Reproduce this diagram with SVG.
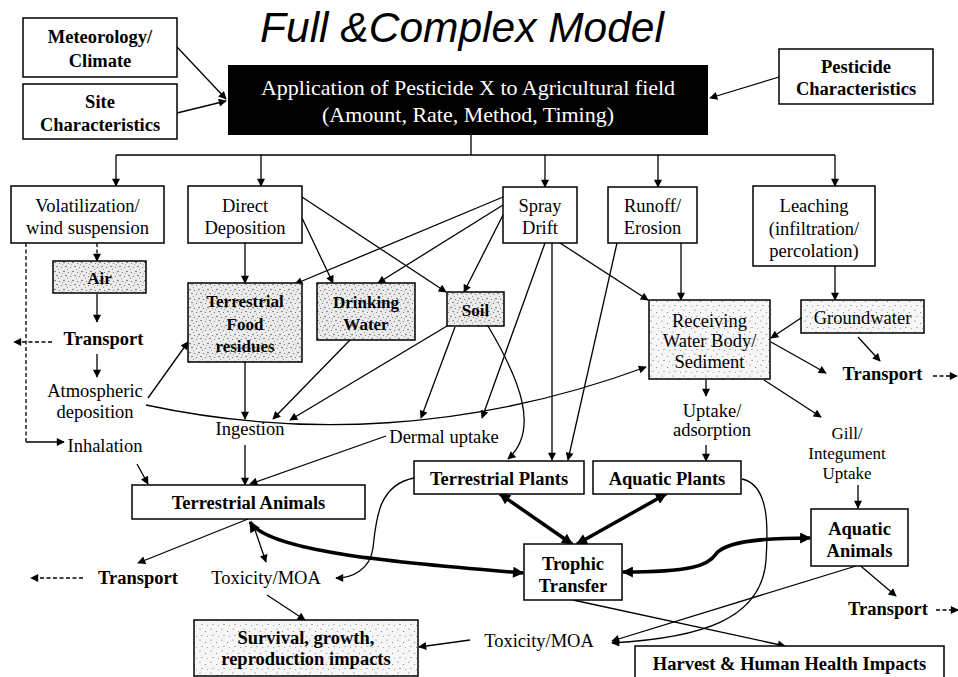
<svg xmlns="http://www.w3.org/2000/svg" width="958" height="677" viewBox="0 0 958 677">
<defs>
<style>
.t{font-family:"Liberation Serif","Times New Roman",serif;font-size:18.5px;text-anchor:middle;fill:#000}
.b{font-weight:bold}
.s{font-size:17px;font-weight:bold}
.g{font-size:17px}
.box{fill:#fff;stroke:#000;stroke-width:1.5}
.dots{fill:url(#stip);stroke:#000;stroke-width:1.5}
.ldots{fill:url(#lstip);stroke:#000;stroke-width:1.5}
.c{fill:none;stroke:#000;stroke-width:1.3}
.a{marker-end:url(#ah)}
.k{fill:none;stroke:#000;stroke-width:3.5;marker-start:url(#ahb);marker-end:url(#ahb)}
.d{stroke-dasharray:4 2.5}
</style>
<marker id="ah" viewBox="0 0 10 10" refX="9" refY="5" markerWidth="9" markerHeight="8" markerUnits="userSpaceOnUse" orient="auto-start-reverse"><path d="M0,0 L10,5 L0,10 z"/></marker>
<marker id="ahb" viewBox="0 0 10 10" refX="9" refY="5" markerWidth="13" markerHeight="11" markerUnits="userSpaceOnUse" orient="auto-start-reverse"><path d="M0,0 L10,5 L0,10 z"/></marker>
<pattern id="stip" width="9" height="9" patternUnits="userSpaceOnUse">
<rect width="9" height="9" fill="#ececec"/>
<circle cx="1" cy="1.5" r="0.7" fill="#444"/><circle cx="5.5" cy="2.5" r="0.6" fill="#666"/>
<circle cx="3" cy="5.5" r="0.7" fill="#555"/><circle cx="7.5" cy="6.5" r="0.6" fill="#666"/>
<circle cx="4.5" cy="8.2" r="0.5" fill="#777"/><circle cx="8.3" cy="3.8" r="0.5" fill="#777"/>
</pattern>
<pattern id="lstip" width="11" height="11" patternUnits="userSpaceOnUse">
<rect width="11" height="11" fill="#f6f6f6"/>
<circle cx="2" cy="2" r="0.6" fill="#666"/><circle cx="7.5" cy="4.5" r="0.6" fill="#777"/>
<circle cx="4" cy="8.5" r="0.6" fill="#666"/><circle cx="9.5" cy="9.5" r="0.5" fill="#888"/>
</pattern>
</defs>
<rect width="958" height="677" fill="#fff"/>

<g id="title"><text x="462" y="42" style="font-family:'Liberation Sans',Arial,sans-serif;font-style:italic;font-size:42.5px;text-anchor:middle">Full &amp;Complex Model</text></g>

<g id="connectors">
<path class="c a" d="M177,47 L226,99"/>
<path class="c a" d="M177,113 L226,101"/>
<path class="c a" d="M779,77 L710,98"/>
<path class="c" d="M471,135 V155 M116,155 H835"/>
<path class="c a" d="M116,155 V186"/>
<path class="c a" d="M261,155 V186"/>
<path class="c a" d="M545,155 V187"/>
<path class="c a" d="M658,155 V187"/>
<path class="c a" d="M835,155 V186"/>
<path class="c a d" d="M97,243 V261"/>
<path class="c d" d="M26,243 V442"/>
<path class="c a" d="M26,442 H64"/>
<path class="c a" d="M97,294 V322"/>
<path class="c a" d="M97,354 V377"/>
<path class="c a d" d="M52,342 H14"/>
<path class="c a" d="M148,398 L188,342"/>
<path class="c a" d="M146,405 C 300,438 470,432 646,367"/>
<path class="c a" d="M245,243 V283"/>
<path class="c a" d="M302,218 L333,283"/>
<path class="c a" d="M302,197 L446,292"/>
<path class="c a" d="M503,197 L295,284"/>
<path class="c a" d="M503,205 L378,283"/>
<path class="c a" d="M503,215 L464,292"/>
<path class="c a" d="M545,243 L482,418"/>
<path class="c a" d="M552,243 V460"/>
<path class="c a" d="M560,243 L648,300"/>
<path class="c a" d="M681,243 V300"/>
<path class="c a" d="M617,243 L568,460"/>
<path class="c a" d="M835,266 V300"/>
<path class="c a" d="M801,318 L771,338"/>
<path class="c a" d="M771,342 L826,373"/>
<path class="c a" d="M858,337 L880,361"/>
<path class="c a d" d="M933,376 H957"/>
<path class="c a" d="M706,380 V396"/>
<path class="c a" d="M706,445 V461"/>
<path class="c a" d="M764,380 L821,417"/>
<path class="c a" d="M858,485 V508"/>
<path class="c a" d="M350,340 L273,419"/>
<path class="c a" d="M447,326 L290,420"/>
<path class="c a" d="M455,327 L421,418"/>
<path class="c a" d="M488,326 C 520,380 540,430 508,459"/>
<path class="c a" d="M245,362 V419"/>
<path class="c a" d="M245,445 V485"/>
<path class="c a" d="M386,436 L250,484"/>
<path class="c a" d="M137,464 L148,484"/>
<path class="c a" d="M248,519 L138,563"/>
<path class="c a" d="M253,524 L266,562"/>
<path class="c a d" d="M83,578 H31"/>
<path class="c a" d="M267,595 L305,620"/>
<path class="c a" d="M414,478 C 378,485 376,520 373,548 C 370,570 352,578 336,578"/>
<path class="k" d="M250,522 C 268,552 400,563 523,573"/>
<path class="k" d="M500,494 L572,544"/>
<path class="k" d="M666,494 L577,544"/>
<path class="k" d="M623,572 C 690,572 708,566 716,554 C 726,540 770,538 810,538"/>
<path class="c a" d="M573,600 L785,646"/>
<path class="c a" d="M856,562 L896,596"/>
<path class="c a d" d="M936,610 H958"/>
<path class="c a" d="M856,566 L612,641"/>
<path class="c a" d="M742,479 C 770,485 768,530 766,560 C 762,620 700,638 612,643"/>
<path class="c a" d="M470,640 L419,647"/>
</g>

<g id="meteorology"><rect class="box" x="23" y="18" width="154" height="59"/><text class="t b" x="100" y="43">Meteorology/</text><text class="t b" x="100" y="67">Climate</text></g>
<g id="site"><rect class="box" x="23" y="84" width="154" height="55"/><text class="t b" x="100" y="108">Site</text><text class="t b" x="100" y="131">Characteristics</text></g>
<g id="application"><rect x="228" y="65" width="480" height="70" fill="#000"/><text class="t" x="468" y="95" style="fill:#fff;font-size:22px">Application of Pesticide X to Agricultural field</text><text class="t" x="468" y="122" style="fill:#fff;font-size:22px">(Amount, Rate, Method, Timing)</text></g>
<g id="pesticide"><rect class="box" x="779" y="49" width="154" height="55"/><text class="t b" x="856" y="73">Pesticide</text><text class="t b" x="856" y="95">Characteristics</text></g>

<g id="volatilization"><rect class="box" x="11" y="186" width="153" height="57"/><text class="t" x="87.5" y="212">Volatilization/</text><text class="t" x="87.5" y="234">wind suspension</text></g>
<g id="direct"><rect class="box" x="188" y="186" width="114" height="57"/><text class="t" x="245" y="212">Direct</text><text class="t" x="245" y="234">Deposition</text></g>
<g id="spray"><rect class="box" x="503" y="187" width="74" height="56"/><text class="t" x="540" y="212">Spray</text><text class="t" x="540" y="234">Drift</text></g>
<g id="runoff"><rect class="box" x="608" y="187" width="89" height="56"/><text class="t" x="652.5" y="212">Runoff/</text><text class="t" x="652.5" y="234">Erosion</text></g>
<g id="leaching"><rect class="box" x="753" y="186" width="122" height="80"/><text class="t" x="814" y="212">Leaching</text><text class="t" x="814" y="235">(infiltration/</text><text class="t" x="814" y="257">percolation)</text></g>

<g id="air"><rect class="dots" x="53" y="261" width="93" height="32"/><text class="t s" x="99.5" y="284">Air</text></g>
<g id="food"><rect class="dots" x="188" y="283" width="114" height="79"/><text class="t s" x="245" y="307">Terrestrial</text><text class="t s" x="245" y="330">Food</text><text class="t s" x="245" y="352">residues</text></g>
<g id="drinking"><rect class="dots" x="317" y="283" width="98" height="57"/><text class="t s" x="366" y="308">Drinking</text><text class="t s" x="366" y="330">Water</text></g>
<g id="soil"><rect class="dots" x="447" y="292" width="57" height="34"/><text class="t s" x="475.5" y="316">Soil</text></g>
<g id="receiving"><rect class="ldots" x="649" y="300" width="121" height="79"/><text class="t" x="709.5" y="327">Receiving</text><text class="t" x="709.5" y="347">Water Body/</text><text class="t" x="709.5" y="368">Sediment</text></g>
<g id="groundwater"><rect class="ldots" x="801" y="300" width="123" height="33"/><text class="t" x="862.5" y="324">Groundwater</text></g>

<g id="transport1"><text class="t b" x="103.5" y="345">Transport</text></g>
<g id="atmospheric"><text class="t" x="95" y="397">Atmospheric</text><text class="t" x="95" y="418">deposition</text></g>
<g id="inhalation"><text class="t" x="105" y="452">Inhalation</text></g>
<g id="ingestion"><text class="t" x="250" y="435">Ingestion</text></g>
<g id="dermal"><text class="t" x="444" y="443">Dermal uptake</text></g>
<g id="uptake"><text class="t" x="712" y="417">Uptake/</text><text class="t" x="712" y="436">adsorption</text></g>
<g id="gill"><text class="t g" x="847" y="439">Gill/</text><text class="t g" x="847" y="459">Integument</text><text class="t g" x="847" y="479">Uptake</text></g>
<g id="transport2"><text class="t b" x="882.5" y="380">Transport</text></g>

<g id="terranimals"><rect class="box" x="132" y="485" width="233" height="34"/><text class="t b" x="248.5" y="509">Terrestrial Animals</text></g>
<g id="terrplants"><rect class="box" x="414" y="461" width="170" height="33"/><text class="t b" x="499" y="485">Terrestrial Plants</text></g>
<g id="aquaplants"><rect class="box" x="593" y="461" width="148" height="33"/><text class="t b" x="667" y="485">Aquatic Plants</text></g>
<g id="trophic"><rect class="box" x="524" y="544" width="98" height="56"/><text class="t b" x="573" y="570">Trophic</text><text class="t b" x="573" y="592">Transfer</text></g>
<g id="aquaanimals"><rect class="box" x="811" y="509" width="97" height="57"/><text class="t b" x="859.5" y="535">Aquatic</text><text class="t b" x="859.5" y="557">Animals</text></g>

<g id="transport3"><text class="t b" x="138" y="584">Transport</text></g>
<g id="toxicity1"><text class="t" x="266" y="584">Toxicity/MOA</text></g>
<g id="transport4"><text class="t b" x="888" y="615">Transport</text></g>
<g id="survival"><rect class="ldots" x="194" y="620" width="224" height="56"/><text class="t b" x="306" y="644">Survival, growth,</text><text class="t b" x="306" y="665">reproduction impacts</text></g>
<g id="toxicity2"><text class="t" x="539" y="647">Toxicity/MOA</text></g>
<g id="harvest"><rect class="box" x="635" y="646" width="309" height="40"/><text class="t b" x="789.5" y="670">Harvest &amp; Human Health Impacts</text></g>
</svg>
